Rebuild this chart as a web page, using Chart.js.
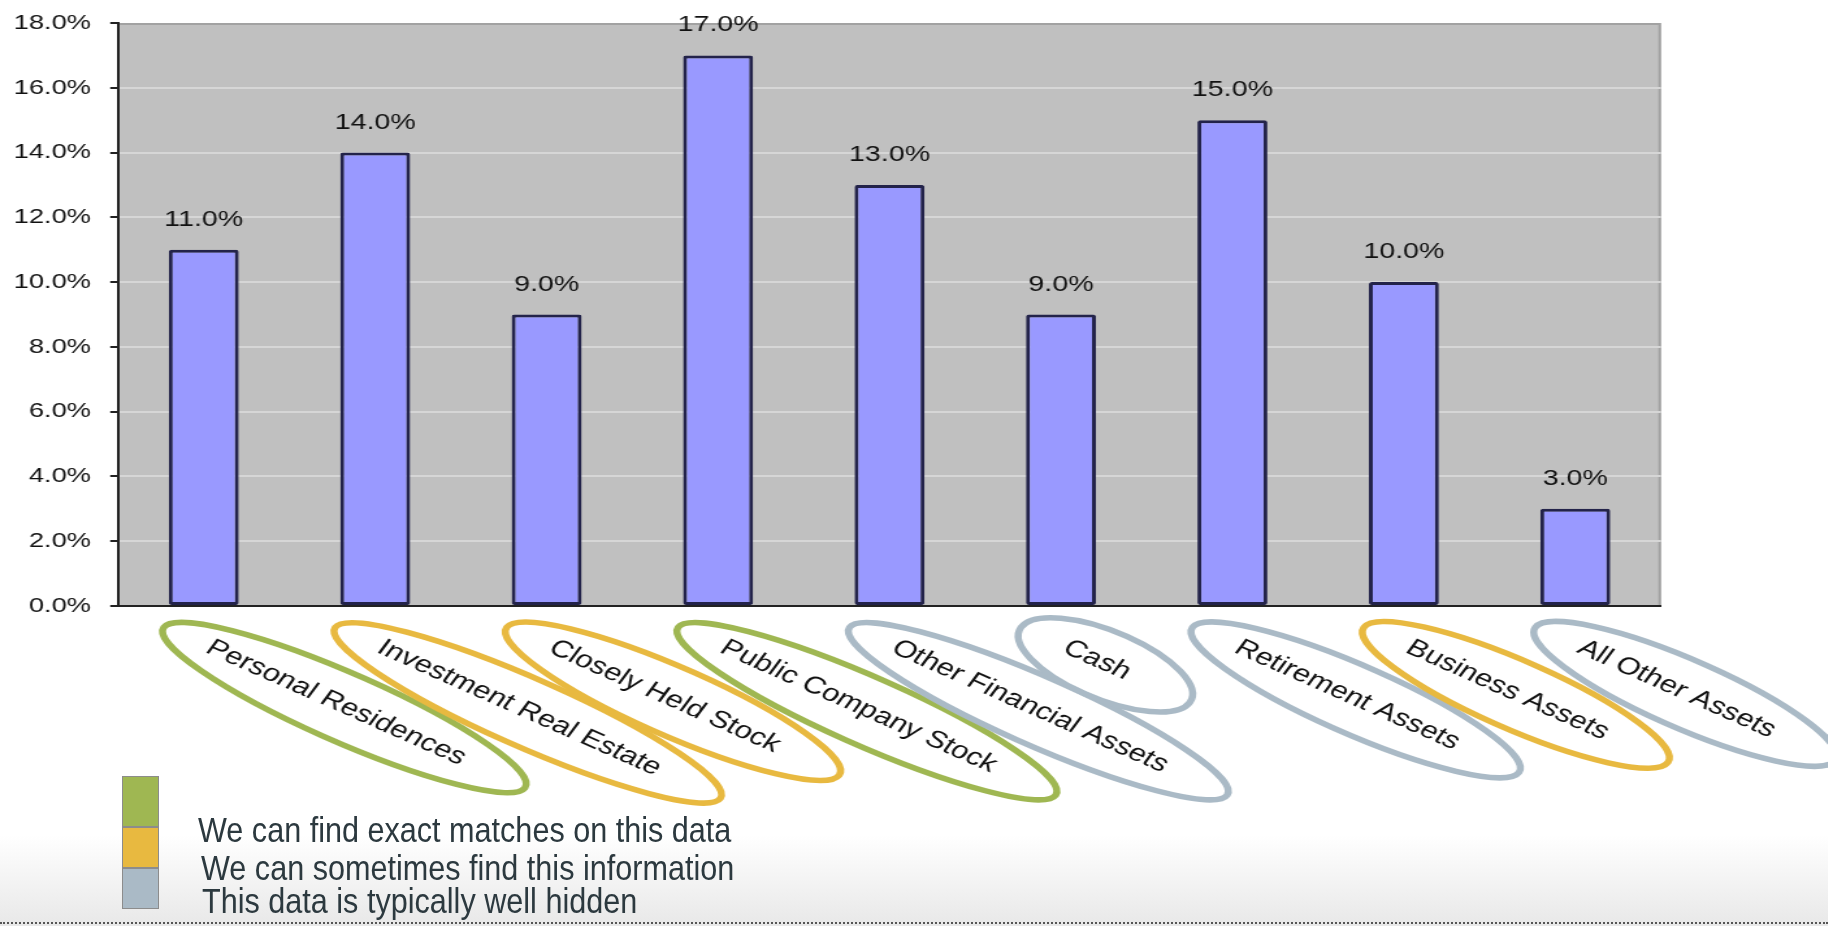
<!DOCTYPE html>
<html>
<head>
<meta charset="utf-8">
<script src="https://cdn.jsdelivr.net/npm/chart.js@4.4.0/dist/chart.umd.min.js"></script>
<style>
  html, body { margin: 0; padding: 0; }
  body {
    width: 1828px; height: 926px; position: relative; overflow: hidden;
    background: linear-gradient(to bottom, #ffffff 0px, #ffffff 835px, #e8e8e8 926px);
  }
  /* the original picture is a horizontally stretched chart image */
  #wrap { position: absolute; left: 0; top: 0; width: 1406px; height: 820px; transform: scaleX(1.3); transform-origin: 0 0; }
  .key { position: absolute; left: 122px; width: 37px; box-sizing: border-box; border: 1px solid #8c8c8c; }
  .line {
    position: absolute; font-family: "Liberation Sans", Arial, sans-serif; font-size: 35px; line-height: 35px;
    color: #2c393f; transform: scaleX(0.874); transform-origin: 0 0; white-space: nowrap;
  }
  #dots { position: absolute; left: 0; right: 0; top: 922px; border-top: 2px dotted #555; }
</style>
</head>
<body>
<div id="wrap"><canvas id="myChart"></canvas></div>
<div id="legend"></div>
<div id="dots"></div>
<script>
    const categories = ['Personal Residences', 'Investment Real Estate', 'Closely Held Stock',
        'Public Company Stock', 'Other Financial Assets', 'Cash', 'Retirement Assets',
        'Business Assets', 'All Other Assets'];
    const shares = [11.0, 14.0, 9.0, 17.0, 13.0, 9.0, 15.0, 10.0, 3.0];
    // which legend group each category belongs to (0 = exact, 1 = sometimes, 2 = hidden)
    const findability = [0, 1, 1, 0, 2, 2, 2, 1, 2];
    const legendLabels = ['We can find exact matches on this data',
        'We can sometimes find this information', 'This data is typically well hidden'];
    const legendColors = ['#9FB752', '#E8B940', '#AABAC6'];
    const yTicks = [0, 2, 4, 6, 8, 10, 12, 14, 16, 18];

    // legend at the bottom
    const legend = document.getElementById('legend');
    const keyBoxes = [[776, 827], [827, 868], [868, 909]];
    const linePos = [[198, 812], [201, 850], [202, 883]];
    legendLabels.forEach((text, i) => {
        const box = document.createElement('div');
        box.className = 'key';
        box.style.top = keyBoxes[i][0] + 'px';
        box.style.height = (keyBoxes[i][1] - keyBoxes[i][0]) + 'px';
        box.style.background = legendColors[i];
        legend.appendChild(box);
        const line = document.createElement('div');
        line.className = 'line';
        line.style.left = linePos[i][0] + 'px';
        line.style.top = linePos[i][1] + 'px';
        line.textContent = text;
        legend.appendChild(line);
    });

    const plotBackground = {
        id: 'plotBackground',
        beforeDraw(chart) {
            const { ctx, chartArea: a } = chart;
            ctx.save();
            ctx.fillStyle = '#C0C0C0';
            ctx.fillRect(a.left, a.top, a.right - a.left, a.bottom - a.top);
            ctx.strokeStyle = '#A2A2A2';
            ctx.lineWidth = 2;
            ctx.beginPath();
            ctx.moveTo(a.left, a.top + 1);
            ctx.lineTo(a.right - 1, a.top + 1);
            ctx.lineTo(a.right - 1, a.bottom);
            ctx.stroke();
            ctx.restore();
        }
    };

    const valueLabels = {
        id: 'valueLabels',
        afterDatasetsDraw(chart) {
            const ctx = chart.ctx;
            const meta = chart.getDatasetMeta(0);
            ctx.save();
            ctx.font = '22px "Liberation Sans", Arial, sans-serif';
            ctx.fillStyle = '#111';
            ctx.textAlign = 'center';
            ctx.textBaseline = 'middle';
            meta.data.forEach((bar, i) => {
                ctx.fillText(shares[i].toFixed(1) + '%', bar.x, bar.y - 30);
            });
            ctx.restore();
        }
    };

    // rotated category names with the coloured rings round them
    const ringedLabels = {
        id: 'ringedLabels',
        afterDraw(chart) {
            const ctx = chart.ctx;
            const xScale = chart.scales.x;
            const y = chart.chartArea.bottom + 40;
            categories.forEach((label, i) => {
                ctx.save();
                ctx.translate(xScale.getPixelForValue(i) + 3.5, y);
                ctx.rotate(Math.PI / 6);
                ctx.font = '24px "Liberation Sans", Arial, sans-serif';
                const w = ctx.measureText(label).width;
                ctx.beginPath();
                ctx.ellipse(w / 2 + 8, 1, w / 2 + 47, 33, 0, 0, Math.PI * 2);
                ctx.strokeStyle = legendColors[findability[i]];
                ctx.lineWidth = 5.5;
                ctx.stroke();
                ctx.fillStyle = '#111';
                ctx.textAlign = 'left';
                ctx.textBaseline = 'middle';
                ctx.fillText(label, 0, 0);
                ctx.restore();
            });
        }
    };

    const ctx = document.getElementById('myChart').getContext('2d');
    const assetChart = new Chart(ctx, {
        type: 'bar',
        data: {
            labels: categories,
            datasets: [{
                data: shares,
                backgroundColor: '#9999FF',
                borderColor: '#23234A',
                borderWidth: 3,
                borderSkipped: false,
                borderRadius: 2,
                barPercentage: 0.408,
                categoryPercentage: 1
            }]
        },
        options: {
            responsive: true,
            maintainAspectRatio: false,
            animation: false,
            layout: { padding: { top: 23, right: 128.3, bottom: 214, left: 0 } },
            plugins: { legend: { display: false }, tooltip: { enabled: false } },
            scales: {
                x: {
                    ticks: { display: false },
                    grid: { display: false },
                    border: { display: true, color: '#222', width: 2 },
                    afterFit(scale) { scale.height = 0; }
                },
                y: {
                    min: 0,
                    max: 18,
                    afterBuildTicks(scale) { scale.ticks = yTicks.map(v => ({ value: v })); },
                    afterFit(scale) {
                        scale.width = 90.8;
                        scale.paddingTop = 0;
                        scale.paddingBottom = 0;
                    },
                    ticks: {
                        padding: 14.8,
                        color: '#111',
                        font: { family: '"Liberation Sans", Arial, sans-serif', size: 21 },
                        callback: v => v.toFixed(1) + '%'
                    },
                    grid: {
                        color: c => (c.tick && c.tick.value === 18) ? 'rgba(0,0,0,0)' : '#D6D6D6',
                        lineWidth: 2,
                        tickColor: '#222',
                        tickLength: 6
                    },
                    border: { display: true, color: '#222', width: 2 }
                }
            }
        },
        plugins: [plotBackground, valueLabels, ringedLabels]
    });
</script>
</body>
</html>
